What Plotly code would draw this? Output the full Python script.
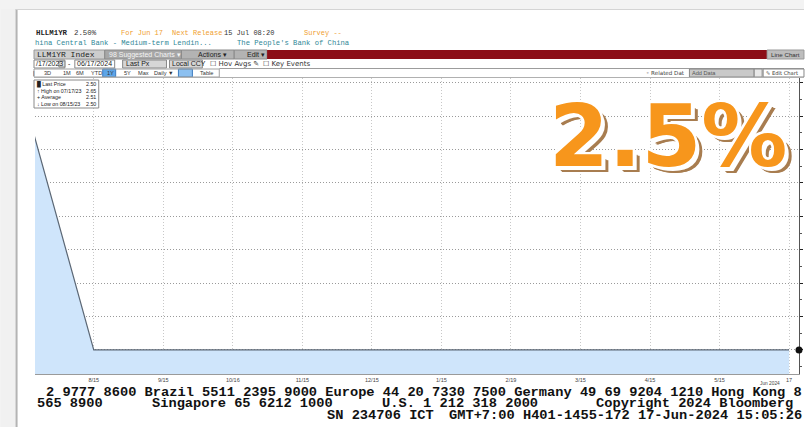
import plotly.graph_objects as go

# ---------------- data ----------------
dates = ["2023-07-17", "2023-08-15", "2023-09-15", "2023-10-16", "2023-11-15", "2023-12-15",
         "2024-01-15", "2024-02-19", "2024-03-15", "2024-04-15", "2024-05-15", "2024-06-17"]
values = [2.65, 2.50, 2.50, 2.50, 2.50, 2.50, 2.50, 2.50, 2.50, 2.50, 2.50, 2.50]
tick_labels = ["7/17", "8/15", "9/15", "10/16", "11/15", "12/15", "1/15", "2/19", "3/15", "4/15", "5/15", "17"]
y_ticks = [2.50, 2.52, 2.54, 2.56, 2.58, 2.60, 2.62, 2.64, 2.66]

W, H = 807, 427
L, R, T, B = 35, 802, 78, 374


def px(x):
    return (x - L) / (R - L)


def py(y):
    return (B - y) / (B - T)


shapes = []
annots = []


def rect(x0, y0, x1, y1, fill, line=None, lw=1):
    shapes.append(dict(type="rect", xref="paper", yref="paper", x0=px(x0), x1=px(x1),
                       y0=py(y1), y1=py(y0), fillcolor=fill,
                       line=dict(color=line if line else fill, width=lw if line else 0),
                       layer="above"))


def hline(x0, x1, y, color, w=1):
    shapes.append(dict(type="line", xref="paper", yref="paper", x0=px(x0), x1=px(x1),
                       y0=py(y), y1=py(y), line=dict(color=color, width=w), layer="above"))


def vline(x, y0, y1, color, w=1):
    shapes.append(dict(type="line", xref="paper", yref="paper", x0=px(x), x1=px(x),
                       y0=py(y0), y1=py(y1), line=dict(color=color, width=w), layer="above"))


def text(x, y, s, size=8, color="#222", family="Liberation Mono", weight="normal",
         xanchor="left", shadow=None):
    f = dict(size=size, color=color, family=family, weight=weight)
    if shadow:
        f["shadow"] = shadow
    annots.append(dict(xref="paper", yref="paper", x=px(x), y=py(y), text=s, showarrow=False,
                       xanchor=xanchor, yanchor="middle", font=f, borderpad=0))


# ---------------- window frame ----------------
rect(0, 0, 16, 427, "#f1f1f1")
rect(0, 0, 807, 9, "#f3f3f3")
vline(16.5, 9, 427, "#b4b4b4", 2)
hline(16, 807, 9.5, "#d4d4d4", 1)

# ---------------- header row 1 ----------------
text(35, 33, "HLLM1YR", 7.4, "#222", weight="bold")
text(73, 33, "2.50%", 7.4, "#333")
text(120, 33, "For Jun 17", 7, "#f0a030")
text(172, 33, "Next Release", 7, "#f0a030")
text(224, 33, "15 Jul 08:20", 7, "#333")
text(304, 33, "Survey --", 7, "#f0a030")

# ---------------- header row 2 ----------------
text(34, 43, "hina Central Bank - Medium-term Lendin...", 7.2, "#2f8797")
text(237, 43, "The People's Bank of China", 7.2, "#2f8797")

# ---------------- header row 3 ----------------
rect(34, 50, 105, 59, "#cdcdcd", "#9a9a9a")
text(36, 54.5, "LLM1YR Index", 8, "#222")
rect(105, 50, 182, 59, "#a7a7a7", "#8a8a8a")
text(108, 54.5, "98 Suggested Charts \u25be", 7, "#f4f4f4", family="Liberation Sans")
rect(182, 50, 235, 59, "#b3b3b3", "#8a8a8a")
text(198, 54.5, "Actions \u25be", 7, "#222", family="Liberation Sans")
rect(235, 50, 268, 59, "#b3b3b3", "#8a8a8a")
text(247, 54.5, "Edit \u25be", 7, "#222", family="Liberation Sans")
rect(268, 50, 770, 59, "#8c0e17")
rect(770, 50, 807, 59, "#bdbdbd", "#999")
text(773, 54.5, "Line Chart", 6.2, "#333", family="Liberation Sans")

# ---------------- header row 4 ----------------
rect(34, 60, 65, 68, "#ffffff", "#888")
text(35, 64, "/17/2023", 7, "#222", family="Liberation Sans")
rect(59, 61, 65, 67, "#e6e6e6", "#888")
text(67, 64, "-", 7, "#222", family="Liberation Sans")
rect(75, 60, 115, 68, "#ffffff", "#888")
text(76, 64, "06/17/2024", 7, "#222", family="Liberation Sans")
rect(123, 60, 167, 68, "#d6d6d6", "#888")
text(125, 64, "Last Px", 7, "#222", family="Liberation Sans")
rect(170, 60, 203, 68, "#d6d6d6", "#888")
text(172, 64, "Local CCY", 7, "#222", family="Liberation Sans")
text(210, 64, "\u2610 Hov Avgs \u270e", 7, "#333", family="DejaVu Sans")
text(263, 64, "\u2610 Key Events", 7, "#333", family="DejaVu Sans")
hline(220, 807, 68.5, "#9c9c9c", 1)

# ---------------- header row 5 ----------------
btns = [(32, "|"), (43, "3D"), (62, "1M"), (75, "6M"), (90, "YTD"), (106, "1Y"),
        (123, "5Y"), (137, "Max"), (153, "Daily \u25bc"), (200, "Table")]
rect(103, 69, 116, 77, "#5da5e8", "#3b7cc0")
rect(179, 69, 193, 77, "#8cc0f0", "#3b7cc0")
rect(34, 69, 220, 77, "rgba(0,0,0,0)", "#a0a0a0")
for bx, bt in btns:
    text(bx, 73, bt, 5.6, "#333", family="Liberation Sans")
text(647, 73, "\u25e6 Related Dat", 5.6, "#444", family="DejaVu Sans")
rect(692, 69, 757, 77, "#c9c9c9", "#888")
text(694, 73, "Add Data", 5.6, "#555", family="Liberation Sans")
rect(757, 69, 765, 77, "#e8e8e8", "#888")
rect(766, 69, 807, 77, "#ffffff", "#888")
text(768, 73, "\u270e Edit Chart", 5.2, "#333", family="DejaVu Sans")
hline(34, 807, 77.5, "#b0b0b0", 1)

# ---------------- stats box ----------------
avg = sum(values) / len(values)
hi = max(values)
lo = min(values)
hi_d = dates[values.index(hi)]
lo_d = dates[values.index(lo)]


def mdy(d):
    y, m, dd = d.split("-")
    return f"{m}/{dd}/{y[2:]}"


stat_rows = [("\u2588 Last Price", values[-1]),
             ("\u2191 High on " + mdy(hi_d), hi),
             ("+ Average", avg),
             ("\u2193 Low on " + mdy(lo_d), lo)]
rect(34, 80, 99, 108, "#ffffff", "#8a8a8a")
for i, (lab, v) in enumerate(stat_rows):
    yy = 84.2 + i * 6.5
    text(36, yy, lab, 5.3, "#222", family="Liberation Sans")
    text(97, yy, f"{v:.2f}", 5.3, "#222", family="Liberation Sans", xanchor="right")

# ---------------- last price dot on axis ----------------
shapes.append(dict(type="circle", xref="paper", yref="y", xsizemode="pixel", ysizemode="pixel",
                   xanchor=1, yanchor=values[-1], x0=-3.5, x1=3.5, y0=-3.5, y1=3.5,
                   fillcolor="#111", line=dict(color="#111", width=0), layer="above"))

# ---------------- date caption ----------------
text(762, 383.5, "Jun 2024", 4.8, "#444", family="Liberation Sans")

# ---------------- footer ----------------
ff = "Liberation Mono"
fs = 13.7
text(45, 392, "2 9777 8600 Brazil 5511 2395 9000 Europe 44 20 7330 7500 Germany 49 69 9204 1210 Hong Kong 8",
     fs, "#111", family=ff, weight="bold")
text(36, 403, "565 8900", fs, "#111", family=ff, weight="bold")
text(151, 403, "Singapore 65 6212 1000", fs, "#111", family=ff, weight="bold")
text(382, 403, "U.S. 1 212 318 2000", fs, "#111", family=ff, weight="bold")
text(597, 403, "Copyright 2024 Bloomberg", fs, "#111", family=ff, weight="bold")
text(327, 415, "SN 234706 ICT", fs, "#111", family=ff, weight="bold")
text(450, 415, "GMT+7:00 H401-1455-172 17-Jun-2024 15:05:26", fs, "#111", family=ff, weight="bold")

# ---------------- big overlay ----------------
big_shadow = ("2px 0 0 #fff, -2px 0 0 #fff, 0 2px 0 #fff, 0 -2px 0 #fff, "
              "2px 2px 0 #fff, -2px -2px 0 #fff, 2px -2px 0 #fff, -2px 2px 0 #fff, "
              "4px 4px 0 #fff, 5px 5px 0 #a87d50, 6px 6px 0 #a87d50, 7px 6px 0 #a87d50")
text(671, 136, "2.5%", 86, "#f7961c", family="DejaVu Sans", weight="bold",
     xanchor="center", shadow=big_shadow)

# ---------------- figure ----------------
fig = go.Figure()
fig.add_trace(go.Scatter(x=dates, y=values, mode="lines", fill="tozeroy",
                         fillcolor="#cfe5fb", line=dict(color="#5b6775", width=1.2),
                         hoverinfo="skip", showlegend=False))

fig.update_layout(
    width=W, height=H,
    margin=dict(l=L, r=W - R, t=T, b=H - B),
    paper_bgcolor="#ffffff", plot_bgcolor="#ffffff",
    showlegend=False,
    shapes=shapes, annotations=annots,
    xaxis=dict(type="category", range=[0.155, 11.143], tickmode="array",
               tickvals=dates, ticktext=tick_labels, showgrid=True, gridcolor="#c8c8c8",
               griddash="1px,2px", gridwidth=1, ticks="", showline=True, linecolor="#9a9a9a",
               tickfont=dict(size=5.5, color="#444", family="Liberation Sans"),
               zeroline=False, fixedrange=True),
    yaxis=dict(range=[2.4856, 2.6628], side="right", tickmode="array", tickvals=y_ticks,
               showticklabels=False, ticks="outside", ticklen=3, tickcolor="#222",
               showgrid=True, gridcolor="#9a9a9a", griddash="1px,2px", gridwidth=1,
               showline=True, linecolor="#555", zeroline=False,
               minor=dict(dtick=0.01, ticks="outside", ticklen=2, tickcolor="#555",
                          showgrid=False),
               fixedrange=True),
)

fig.write_html("out.html", config={"displayModeBar": False},
               post_script="document.body.style.margin='0';document.body.style.overflow='hidden';")
